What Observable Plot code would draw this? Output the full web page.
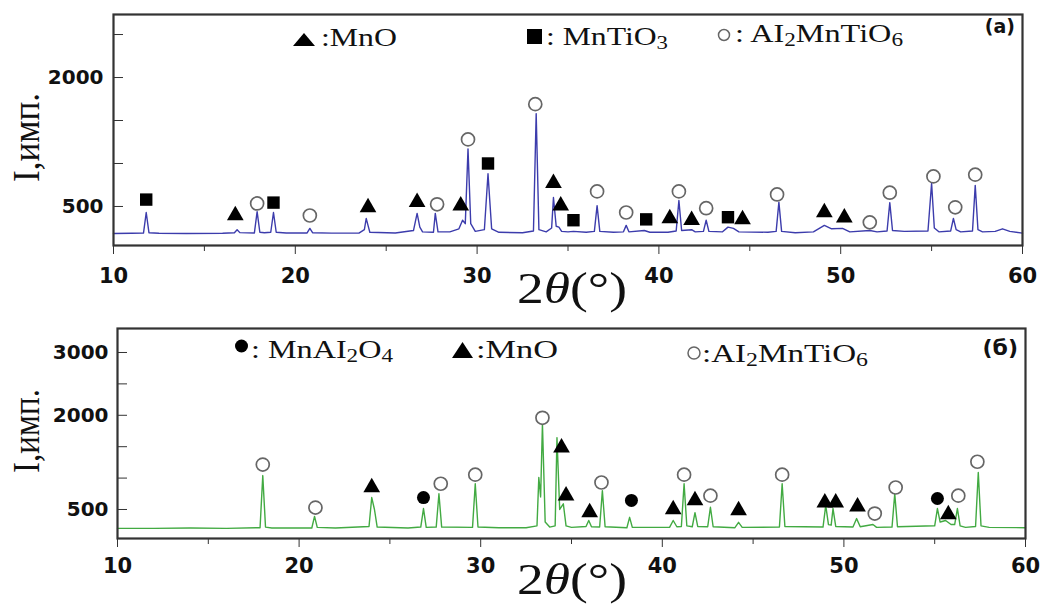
<!DOCTYPE html>
<html>
<head>
<meta charset="utf-8">
<script src="https://cdn.jsdelivr.net/npm/d3@7"></script>
<script src="https://cdn.jsdelivr.net/npm/@observablehq/plot@0.6"></script>
<style>
  html, body { margin: 0; padding: 0; background: white; }
  #wrap { position: relative; width: 1045px; height: 605px; overflow: hidden; }
  #top, #bot, #over { position: absolute; left: 0; }
  #top { top: 0; }
  #bot { top: 320px; }
  #over { top: 0; pointer-events: none; }
</style>
</head>
<body>
<div id="wrap">
  <div id="top"></div>
  <div id="bot"></div>
  <svg id="over" width="1045" height="605"></svg>
</div>
<script>
// ---------- tick values ----------
const xMajor = [10, 20, 30, 40, 50, 60];
const xMinor = [15, 25, 35, 45, 55];
const yTicksA = [500, 1000, 1500, 2000, 2500];
const yLabelsA = [500, 2000];
const yTicksB = [500, 1000, 1500, 2000, 2500, 3000];
const yLabelsB = [500, 2000, 3000];

// ---------- panel (a): trace vertices [2θ, intensity] ----------
const traceA = [
  [10,185],[11.0,188],[11.65,190],[11.8,430],[11.95,195],[12.5,188],[14,186],[16.0,188],
  [16.65,195],[16.8,230],[16.95,196],[17.75,192],[17.9,440],[18.05,200],[18.3,195],[18.65,200],
  [18.8,430],[18.95,200],[19.5,192],[20.65,192],[20.8,245],[20.95,195],[22,190],[23.5,190],
  [23.8,230],[23.9,360],[24.0,280],[24.1,200],[25.5,192],[26.5,220],[26.7,420],[26.85,260],
  [27.0,205],[27.6,200],[27.7,420],[27.85,205],[28.5,205],[29.0,240],[29.2,340],[29.35,300],
  [29.5,1170],[29.65,300],[29.9,210],[30.4,230],[30.6,880],[30.8,240],[31.2,200],[32.5,195],
  [33.1,215],[33.25,1580],[33.4,230],[33.8,205],[34.1,250],[34.2,605],[34.35,270],[34.5,260],
  [34.65,210],[35,205],[35.3,210],[36,200],[36.45,210],[36.6,510],[36.75,210],[37.5,200],
  [38.05,205],[38.2,280],[38.35,205],[39.2,220],[39.5,200],[40.5,200],[40.95,215],[41.1,570],
  [41.25,220],[41.8,230],[42,205],[42.45,210],[42.6,340],[42.75,210],[43.5,205],[43.8,260],
  [44.1,245],[44.4,205],[46.0,200],[46.45,210],[46.6,550],[46.75,210],[47.5,195],[48.5,205],
  [49.1,280],[49.5,240],[50.1,245],[50.5,205],[51.6,220],[52.0,205],[52.55,215],[52.7,545],
  [52.85,220],[53.5,210],[54.8,215],[55.0,770],[55.15,250],[55.4,205],[56.05,215],[56.2,360],
  [56.35,230],[56.6,205],[57.25,215],[57.4,745],[57.55,230],[57.8,205],[58.5,210],[58.9,240],
  [59.3,210],[60,190]
];
// markers (a)
const mnoA = [[16.7,395],[24.0,490],[26.7,550],[29.1,510],[34.2,770],[34.6,510],[40.6,360],[41.8,340],[44.6,350],[49.1,430],[50.2,370]];
const mntio3A = [[11.8,580],[18.8,545],[30.6,1000],[35.3,340],[39.3,350],[43.8,375]];
const al2mntio6A = [[17.9,535],[20.8,395],[27.8,525],[29.5,1280],[33.2,1690],[36.6,675],[38.2,430],[41.1,675],[42.6,480],[46.5,640],[51.6,315],[52.7,660],[55.1,850],[56.3,490],[57.4,870]];

// ---------- panel (б): trace vertices ----------
const traceB = [
  [10,200],[12,200],[14,205],[16,200],[17.85,210],[18.0,1040],[18.15,220],[18.5,205],[20.7,205],
  [20.85,390],[21.0,215],[22,205],[23.85,230],[24.0,690],[24.15,500],[24.3,220],[26.0,205],
  [26.7,220],[26.85,515],[27.0,215],[27.55,220],[27.7,750],[27.85,220],[29.55,215],[29.7,910],
  [29.85,220],[31,210],[32.5,210],[33.1,240],[33.2,1010],[33.3,700],[33.4,1865],[33.55,300],
  [33.8,220],[34.1,240],[34.2,1645],[34.35,500],[34.55,590],[34.7,240],[35,215],[35.8,230],
  [35.95,325],[36.1,225],[36.55,220],[36.7,800],[36.85,225],[38.05,210],[38.2,375],[38.35,215],
  [40.4,215],[40.6,325],[40.8,225],[41.05,230],[41.2,910],[41.35,240],[41.65,225],[41.8,450],
  [41.95,230],[42.5,225],[42.65,535],[42.8,225],[44.0,210],[44.2,295],[44.4,215],[46.45,220],
  [46.6,910],[46.75,230],[48.85,220],[49.0,565],[49.15,260],[49.3,250],[49.4,515],[49.55,230],
  [50.5,220],[50.7,355],[50.9,225],[51.6,260],[51.8,215],[52.65,220],[52.8,750],[52.95,225],
  [55.0,240],[55.15,515],[55.3,300],[55.6,325],[55.9,260],[56.1,260],[56.25,515],[56.4,240],
  [56.7,215],[57.25,230],[57.4,1090],[57.55,240],[58,215],[60,210]
];
const mnal2o4B = [[26.85,690],[38.3,645],[55.15,675]];
const mnoB = [[24.0,850],[34.45,1485],[34.7,720],[36.0,455],[40.6,500],[41.8,645],[44.2,485],[48.95,610],[49.55,610],[50.75,545],[55.75,420]];
const al2mntio6B = [[18.0,1215],[20.9,530],[27.8,910],[29.7,1055],[33.4,1960],[36.65,930],[41.2,1055],[42.65,720],[46.6,1055],[51.7,435],[52.85,850],[56.3,720],[57.35,1260]];

const X = d => d[0], Y = d => d[1];
const baseStyle = {background: "transparent", overflow: "visible", color: "#111"};
const tickFont = {fontFamily: "DejaVu Sans", fontWeight: "bold"};

function axes(yTicks, yLabels, xPad, yPad) {
  return [
    Plot.axisX(xMajor, {tickSize: 9, tickPadding: xPad, label: null, fontSize: 21, ...tickFont, stroke: "#333"}),
    Plot.axisX(xMinor, {tickSize: 6, fill: "none", label: null, stroke: "#333"}),
    Plot.axisY(yTicks, {tickSize: 10, dx: 10, fill: "none", label: null, stroke: "#333"}),
    Plot.axisY(yLabels, {tickSize: 0, tickPadding: yPad, label: null, fontSize: 20, tickFormat: d3.format("d"), ...tickFont})
  ];
}

const plotA = Plot.plot({
  width: 1045, height: 320,
  marginLeft: 113, marginRight: 23, marginTop: 14, marginBottom: 75,
  style: baseStyle,
  x: {domain: [10, 60]},
  y: {domain: [46, 2733]},
  marks: [
    ...axes(yTicksA, yLabelsA, 14, 10),
    Plot.line(traceA, {x: X, y: Y, stroke: "#3c3cac", strokeWidth: 1.4}),
    Plot.dot(mnoA, {x: X, y: Y, symbol: "triangle", r: 6.2, fill: "black"}),
    Plot.dot(mntio3A, {x: X, y: Y, symbol: "square", r: 7, fill: "black"}),
    Plot.dot(al2mntio6A, {x: X, y: Y, symbol: "circle", r: 6.5, fill: "white", stroke: "#666", strokeWidth: 1.7}),
    Plot.frame({stroke: "#333", strokeWidth: 2.2})
  ]
});
document.getElementById("top").appendChild(plotA);

const plotB = Plot.plot({
  width: 1045, height: 285,
  marginLeft: 117, marginRight: 20, marginTop: 8, marginBottom: 67,
  style: baseStyle,
  x: {domain: [10, 60]},
  y: {domain: [38, 3382]},
  marks: [
    ...axes(yTicksB, yLabelsB, 11, 9),
    Plot.line(traceB, {x: X, y: Y, stroke: "#42aa42", strokeWidth: 1.4}),
    Plot.dot(mnal2o4B, {x: X, y: Y, symbol: "circle", r: 6.5, fill: "black"}),
    Plot.dot(mnoB, {x: X, y: Y, symbol: "triangle", r: 6.2, fill: "black"}),
    Plot.dot(al2mntio6B, {x: X, y: Y, symbol: "circle", r: 6.5, fill: "white", stroke: "#666", strokeWidth: 1.7}),
    Plot.frame({stroke: "#333", strokeWidth: 2.2})
  ]
});
document.getElementById("bot").appendChild(plotB);

// ---------- overlay: legends and axis titles ----------
const serif = "Liberation Serif, Times New Roman, serif";
const lo = (t) => `<tspan dy="4" font-size="18">${t}</tspan>`;   // subscript (lowered)
const up = (t) => `<tspan dy="-4">${t}</tspan>`;                  // back to baseline
const over = document.getElementById("over");
over.innerHTML = `
  <g font-family="${serif}" fill="#111" font-size="25">
    <!-- panel a legend -->
    <polygon points="293,46 315,46 304,33" fill="black"/>
    <text x="321" y="46" textLength="76" lengthAdjust="spacingAndGlyphs">:MnO</text>
    <rect x="527" y="29" width="15" height="15" fill="black"/>
    <text x="546" y="45" textLength="122" lengthAdjust="spacingAndGlyphs">: MnTiO${lo("3")}</text>
    <circle cx="724" cy="35" r="5.5" fill="white" stroke="#666" stroke-width="1.5"/>
    <text x="735" y="42" textLength="168" lengthAdjust="spacingAndGlyphs">: AI${lo("2")}${up("MnTiO")}${lo("6")}</text>
    <!-- panel б legend -->
    <circle cx="241.5" cy="346" r="6.5" fill="black"/>
    <text x="251" y="358" textLength="142" lengthAdjust="spacingAndGlyphs">: MnAI${lo("2")}${up("O")}${lo("4")}</text>
    <polygon points="452,358 473,358 462.5,342" fill="black"/>
    <text x="476" y="358" textLength="82" lengthAdjust="spacingAndGlyphs">:MnO</text>
    <circle cx="694" cy="353" r="6" fill="white" stroke="#666" stroke-width="1.5"/>
    <text x="702" y="362" textLength="166" lengthAdjust="spacingAndGlyphs">:AI${lo("2")}${up("MnTiO")}${lo("6")}</text>
  </g>
  <g font-family="DejaVu Sans" font-weight="bold" fill="#111">
    <text x="1015" y="33" font-size="19" text-anchor="end">(a)</text>
    <text x="1018" y="355" font-size="22" text-anchor="end">(б)</text>
  </g>
  <g font-family="${serif}" fill="#111">
    <text transform="translate(39,182) rotate(-90)" font-size="38" textLength="89" lengthAdjust="spacingAndGlyphs">I,имп.</text>
    <text transform="translate(39,473) rotate(-90)" font-size="38" textLength="84" lengthAdjust="spacingAndGlyphs">I,имп.</text>
    <text x="517" y="303" font-size="44" textLength="110" lengthAdjust="spacingAndGlyphs">2<tspan font-style="italic">θ</tspan>(°)</text>
    <text x="517" y="594" font-size="44" textLength="110" lengthAdjust="spacingAndGlyphs">2<tspan font-style="italic">θ</tspan>(°)</text>
  </g>
`;
</script>
</body>
</html>
